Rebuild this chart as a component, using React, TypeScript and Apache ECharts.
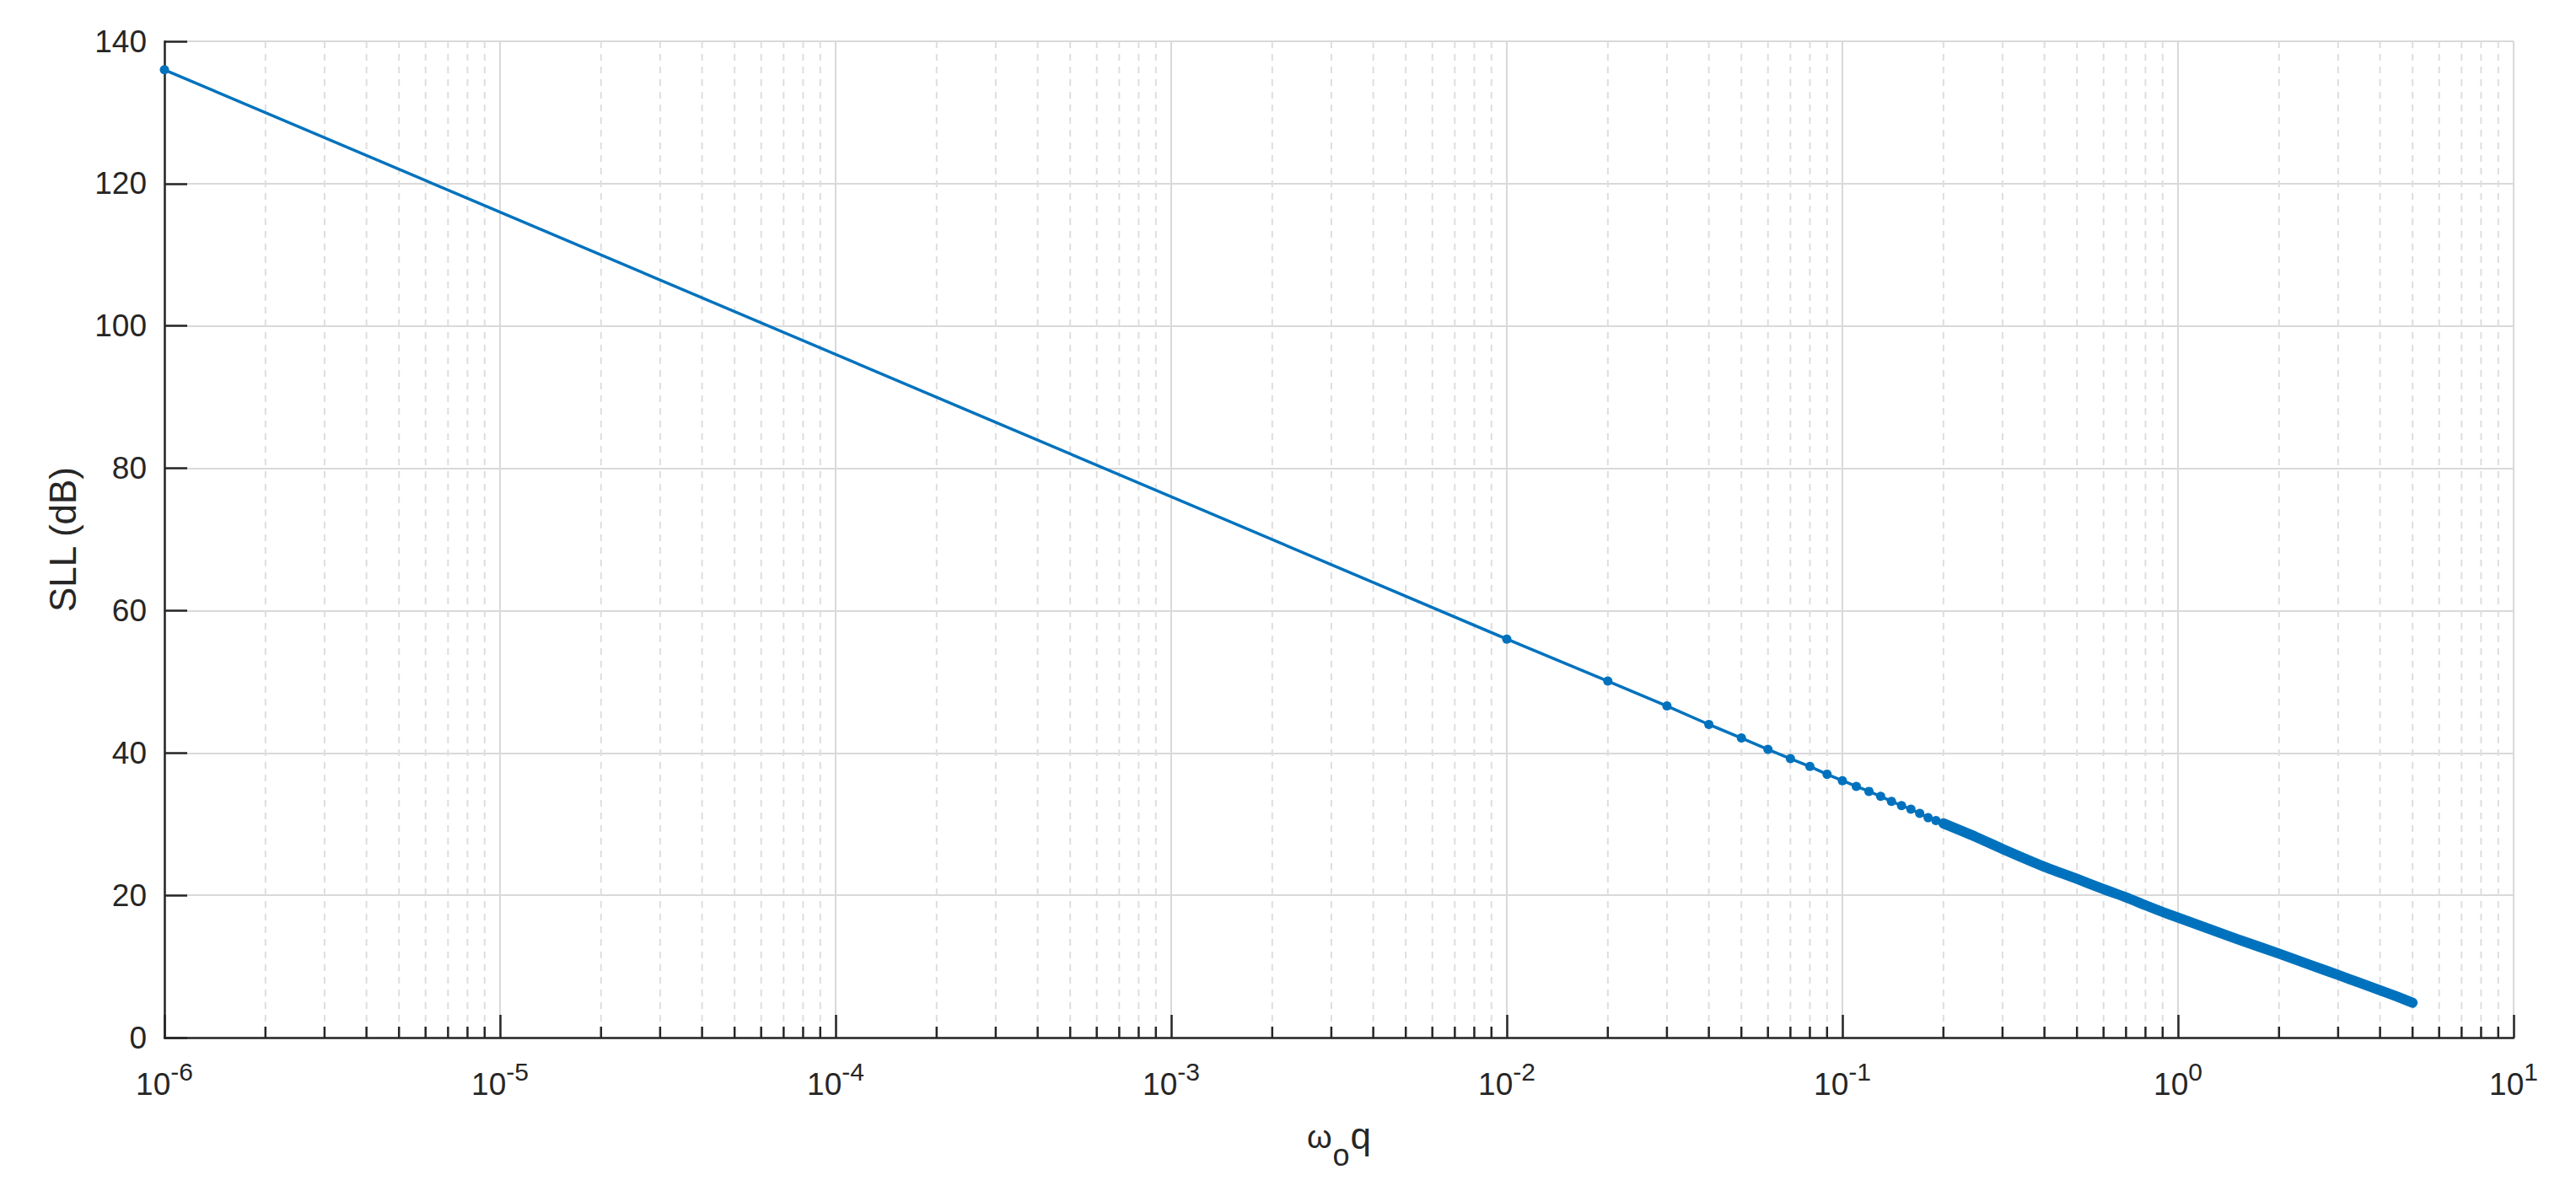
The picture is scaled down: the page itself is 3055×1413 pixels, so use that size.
import React, { useEffect, useRef } from "react";
import * as echarts from "echarts";

// Sampled points with visible markers (omega_o q, SLL dB)
const xMarked = [0.000001, 0.01, 0.02, 0.03, 0.04, 0.05, 0.06, 0.07, 0.08, 0.09, 0.1, 0.11, 0.12, 0.13, 0.14, 0.15, 0.16, 0.17, 0.18, 0.19, 0.2];
const yMarked = [136.0, 56.0, 50.1, 46.6, 44.0, 42.1, 40.5, 39.2, 38.1, 37.0, 36.1, 35.3, 34.6, 33.9, 33.2, 32.6, 32.1, 31.5, 30.9, 30.5, 30.1];

// Dense region where the markers merge into a thick band
const xDense = [0.2, 0.25, 0.3, 0.4, 0.5, 0.6, 0.7, 0.8, 0.9, 1, 1.5, 2, 2.5, 3, 3.5, 4, 4.5, 5];
const yDense = [30.1, 28.2, 26.5, 24.0, 22.3, 20.85, 19.7, 18.6, 17.65, 16.85, 13.85, 11.8, 10.15, 8.8, 7.65, 6.65, 5.75, 4.9];

// Axis settings
const xMin = 1e-6;
const xMax = 10;
const yMin = 0;
const yMax = 140;
const yStep = 20;
const decadeExps = [-6, -5, -4, -3, -2, -1, 0];
const minorMultipliers = [2, 3, 4, 5, 6, 7, 8, 9];

const FONT = "'Liberation Sans', Arial, Helvetica, sans-serif";
const INK = "#262626";
const BLUE = "#0072BD";

export default function App() {
  const ref = useRef<HTMLDivElement>(null);

  useEffect(() => {
    if (!ref.current) return;
    const chart = echarts.init(ref.current, undefined, { renderer: "svg" });

    const minorTicks: number[][] = [];
    decadeExps.forEach((e) => {
      minorMultipliers.forEach((m) => {
        minorTicks.push([m * Math.pow(10, e), 0]);
      });
    });

    const option: any = {
      animation: false,
      backgroundColor: "#ffffff",
      grid: { left: 195, right: 74, top: 49, bottom: 182, containLabel: false },
      xAxis: {
        type: "log",
        logBase: 10,
        min: xMin,
        max: xMax,
        splitNumber: 7,
        name: "{w|ω}{o|o}{q|q}",
        nameLocation: "middle",
        nameGap: 94,
        nameTextStyle: {
          fontFamily: FONT,
          color: INK,
          rich: {
            w: { fontFamily: FONT, fontSize: 38, color: INK, verticalAlign: "top", padding: [5, 1, 0, 0] },
            o: { fontFamily: FONT, fontSize: 36, color: INK, verticalAlign: "top", padding: [27.7, 1, 0, 0] },
            q: { fontFamily: FONT, fontSize: 44, color: INK, verticalAlign: "top" },
          },
        },
        axisLine: { show: true, onZero: false, lineStyle: { color: INK, width: 2.5 } },
        axisTick: { show: true, inside: true, length: 27, lineStyle: { color: INK, width: 2.5 } },
        splitLine: { show: true, lineStyle: { color: "#d9d9d9", width: 2 } },
        minorTick: { show: false },
        minorSplitLine: { show: false },
        axisLabel: {
          margin: 25,
          formatter: (v: number) => `{b|10}{s|${Math.round(Math.log10(v))}}`,
          rich: {
            b: { fontFamily: FONT, fontSize: 37, color: INK, verticalAlign: "bottom", padding: [11.5, 0, 0, 0] },
            s: { fontFamily: FONT, fontSize: 30, color: INK, verticalAlign: "top" },
          },
        },
      },
      yAxis: {
        type: "value",
        min: yMin,
        max: yMax,
        interval: yStep,
        name: "SLL (dB)",
        nameLocation: "middle",
        nameGap: 99,
        nameTextStyle: { fontFamily: FONT, fontSize: 44, color: INK },
        axisLine: { show: true, lineStyle: { color: INK, width: 2.5 } },
        axisTick: { show: true, inside: true, length: 27, lineStyle: { color: INK, width: 2.5 } },
        splitLine: { show: true, lineStyle: { color: "#d9d9d9", width: 2 } },
        axisLabel: { margin: 21, fontFamily: FONT, fontSize: 37, color: INK },
      },
      series: [
        {
          type: "custom",
          silent: true,
          z: 1,
          clip: false,
          data: minorTicks,
          renderItem: (params: any, api: any) => {
            const x = api.value(0);
            const p0 = api.coord([x, yMin]);
            const p1 = api.coord([x, yMax]);
            return {
              type: "group",
              children: [
                {
                  type: "line",
                  shape: { x1: p0[0], y1: p1[1], x2: p0[0], y2: p0[1] },
                  style: { stroke: "#dedede", lineWidth: 2, lineDash: [8, 7] },
                },
                {
                  type: "line",
                  shape: { x1: p0[0], y1: p0[1], x2: p0[0], y2: p0[1] - 13 },
                  style: { stroke: INK, lineWidth: 2.5 },
                },
              ],
            };
          },
        },
        {
          type: "line",
          z: 3,
          clip: false,
          data: xDense.map((x, i) => [x, yDense[i]]),
          symbol: "none",
          smooth: 0.2,
          lineStyle: { color: BLUE, width: 12, cap: "round", join: "round" },
        },
        {
          type: "line",
          z: 4,
          clip: false,
          data: xMarked.map((x, i) => [x, yMarked[i]]),
          symbol: "circle",
          symbolSize: 11,
          showAllSymbol: true,
          itemStyle: { color: BLUE },
          lineStyle: { color: BLUE, width: 3.5 },
        },
      ],
    };

    chart.setOption(option);
    return () => chart.dispose();
  }, []);

  return (
    <div
      ref={ref}
      style={{ position: "absolute", left: 0, top: 0, width: 3055, height: 1413, background: "#fff" }}
    />
  );
}
